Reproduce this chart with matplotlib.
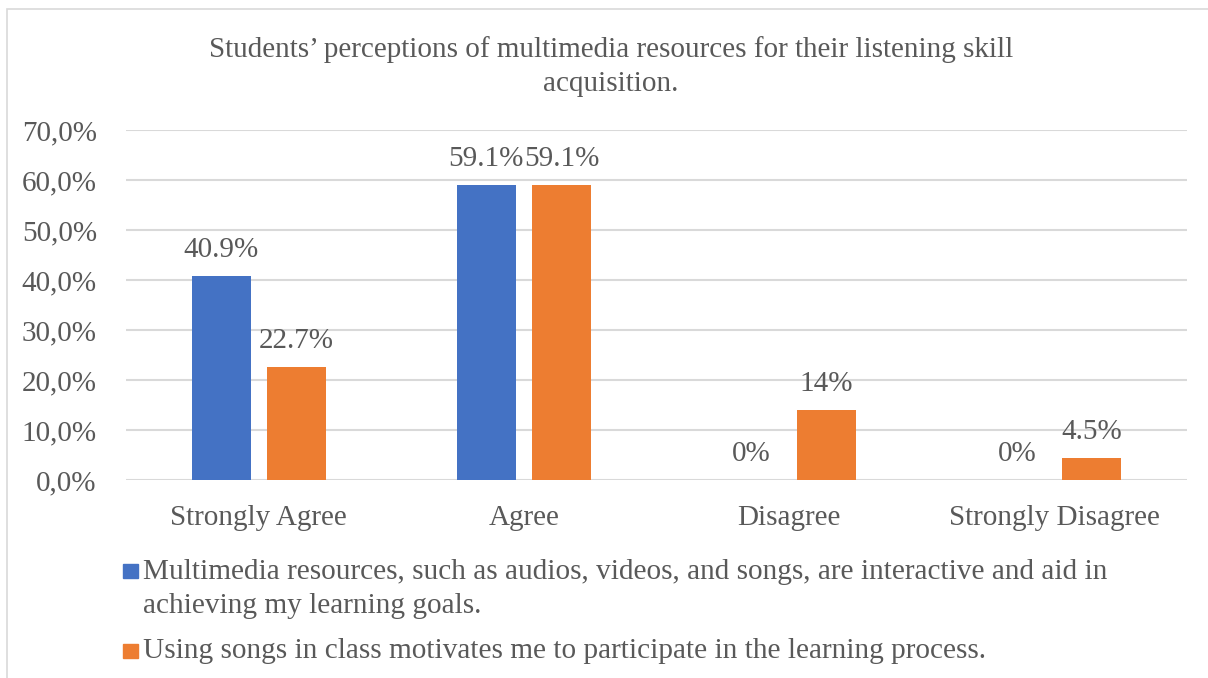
import matplotlib.pyplot as plt
from matplotlib.patches import Rectangle

# Survey results (share of respondents)
categories = ['Strongly Agree', 'Agree', 'Disagree', 'Strongly Disagree']
multimedia = [0.409, 0.591, 0.0, 0.0]
songs = [0.227, 0.591, 0.14, 0.045]
multimedia_labels = ['40.9%', '59.1%', '0%', '0%']
songs_labels = ['22.7%', '59.1%', '14%', '4.5%']
series_lines = [
    ['Multimedia resources, such as audios, videos, and songs, are interactive and aid in',
     'achieving my learning goals.'],
    ['Using songs in class motivates me to participate in the learning process.'],
]
title_lines = ['Students\u2019 perceptions of multimedia resources for their listening skill',
               'acquisition.']
yticks = [0.0, 0.1, 0.2, 0.3, 0.4, 0.5, 0.6, 0.7]
ytick_labels = ['0,0%', '10,0%', '20,0%', '30,0%', '40,0%', '50,0%', '60,0%', '70,0%']

BLUE = '#4472C4'
ORANGE = '#ED7D31'
TEXT = '#595959'
GRID = '#D9D9D9'
FS = 21

plt.rcParams['font.family'] = ['Liberation Serif', 'DejaVu Serif']

W, H = 1208, 678
fig = plt.figure(figsize=(W / 100, H / 100), dpi=100)
ax = fig.add_axes([126 / W, 1 - 480 / H, (1187 - 126) / W, 350 / H])


def fy(py):
    return 1 - py / H


# chart border
fig.patches.append(Rectangle((7 / W, -0.01), 1.2, fy(9) + 0.01,
                             transform=fig.transFigure, fill=False,
                             edgecolor=GRID, linewidth=1.2))

x = list(range(len(categories)))
w = 0.223
off = 0.1415
b1 = ax.bar([i - off for i in x], multimedia, width=w, color=BLUE, zorder=3)
b2 = ax.bar([i + off for i in x], songs, width=w, color=ORANGE, zorder=3)

for bars, labels in ((b1, multimedia_labels), (b2, songs_labels)):
    for rect, lab in zip(bars, labels):
        ax.annotate(lab, (rect.get_x() + rect.get_width() / 2, rect.get_height()),
                    xytext=(0, 13.5), textcoords='offset points', ha='center',
                    va='baseline', fontsize=FS, color=TEXT)

ax.set_xlim(-0.5, len(categories) - 0.5)
ax.set_ylim(0, 0.7)
ax.set_yticks(yticks)
ax.set_yticklabels(ytick_labels)
ax.set_xticks(x)
ax.set_xticklabels(categories)
ax.tick_params(axis='both', length=0, labelsize=FS, colors=TEXT)
ax.tick_params(axis='y', pad=21)
ax.tick_params(axis='x', pad=18)
ax.grid(axis='y', color=GRID, linewidth=1.5, zorder=0)
for s in ax.spines.values():
    s.set_visible(False)

for line, base in zip(title_lines, (57, 91)):
    fig.text(611 / W, fy(base), line, ha='center', va='baseline',
             fontsize=FS, color=TEXT)

# legend
legend_rows = [(564, (579, 613), BLUE, series_lines[0]),
               (644, (658,), ORANGE, series_lines[1])]
for sq_top, bases, col, lines in legend_rows:
    fig.patches.append(Rectangle((123 / W, fy(sq_top + 14)), 15 / W, 14 / H,
                                 transform=fig.transFigure, color=col))
    for line, base in zip(lines, bases):
        fig.text(143 / W, fy(base), line, ha='left', va='baseline',
                 fontsize=21.1, color=TEXT)

fig.savefig('out.png', dpi=100)
